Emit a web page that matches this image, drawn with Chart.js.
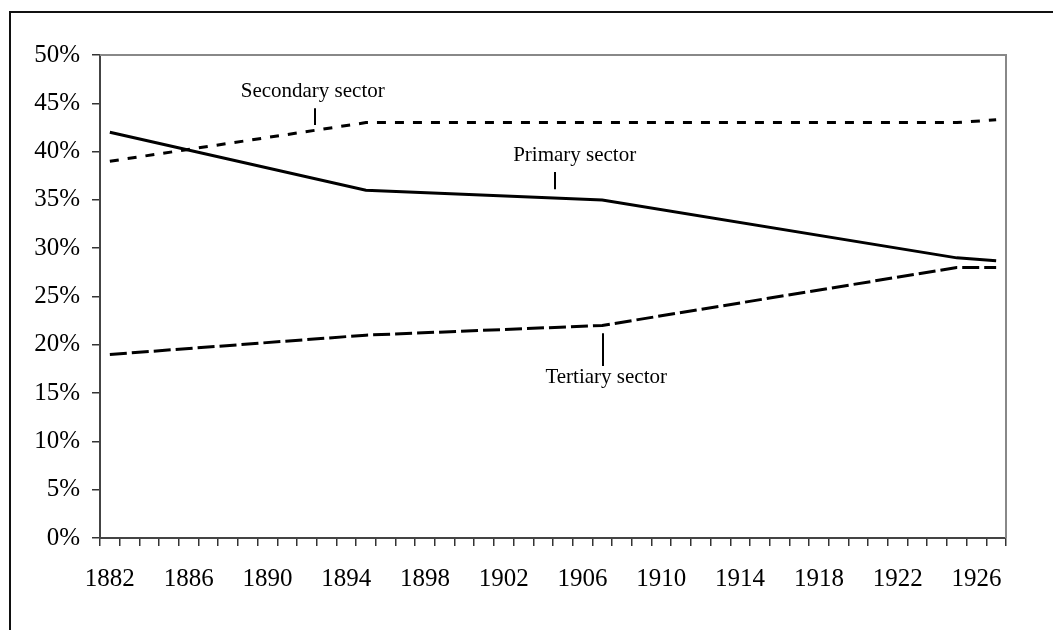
<!DOCTYPE html>
<html>
<head>
<meta charset="utf-8">
<script src="https://cdn.jsdelivr.net/npm/chart.js@4/dist/chart.umd.min.js"></script>
<style>
  html, body { margin: 0; padding: 0; background: #fff; }
  #wrap { position: relative; width: 1053px; height: 630px; }
  canvas { display: block; }
</style>
</head>
<body>
<div id="wrap"><canvas id="c" width="1053" height="630"></canvas></div>
<script>
// ---- Data ----
const years = [];
for (let y = 1882; y <= 1927; y++) years.push(String(y));

const primaryYears   = ['1882', '1895', '1907', '1925', '1927'];
const primaryValues  = [42, 36, 35, 29, 28.7];
const secondaryYears  = ['1882', '1895', '1925', '1927'];
const secondaryValues = [39, 43, 43, 43.3];
const tertiaryYears  = ['1882', '1895', '1907', '1925', '1927'];
const tertiaryValues = [19, 21, 22, 28, 28];

const yTicks = [0, 5, 10, 15, 20, 25, 30, 35, 40, 45, 50];

// annotation labels (data units: category index, percent)
const annLabels = ['Secondary sector', 'Primary sector', 'Tertiary sector'];
const annTextX  = [10.3, 23.6, 25.2];
const annTextY  = [46.2, 39.6, 16.6];
const annLineX  = [10.4, 22.6, 25.05];
const annLineY1 = [44.5, 37.9, 21.2];
const annLineY2 = [42.75, 36.1, 17.8];

function toSeries(ys, vals) {
  const arr = years.map(() => null);
  ys.forEach((y, i) => { arr[years.indexOf(y)] = vals[i]; });
  return arr;
}

const frame = {
  id: 'frame',
  beforeDraw(chart) {
    const ctx = chart.ctx;
    ctx.save();
    ctx.strokeStyle = '#111';
    ctx.lineWidth = 2;
    ctx.beginPath();
    ctx.moveTo(10, 640);
    ctx.lineTo(10, 12);
    ctx.lineTo(1060, 12);
    ctx.stroke();
    ctx.restore();
  },
  afterDraw(chart) {
    const ctx = chart.ctx, a = chart.chartArea;
    ctx.save();
    ctx.strokeStyle = '#888';
    ctx.lineWidth = 2;
    ctx.beginPath();
    ctx.moveTo(a.left, a.top);
    ctx.lineTo(a.right, a.top);
    ctx.lineTo(a.right, a.bottom);
    ctx.stroke();
    // annotations
    const xs = chart.scales.x, ys = chart.scales.y;
    ctx.fillStyle = '#000';
    ctx.strokeStyle = '#000';
    ctx.lineWidth = 2;
    ctx.font = '21px "Liberation Serif", "Times New Roman", serif';
    ctx.textAlign = 'center';
    ctx.textBaseline = 'middle';
    annLabels.forEach((t, i) => {
      ctx.fillText(t, xs.getPixelForValue(annTextX[i]), ys.getPixelForValue(annTextY[i]));
      const lx = Math.round(xs.getPixelForValue(annLineX[i])) + 0;
      ctx.beginPath();
      ctx.moveTo(lx, ys.getPixelForValue(annLineY1[i]));
      ctx.lineTo(lx, ys.getPixelForValue(annLineY2[i]));
      ctx.stroke();
    });
    ctx.restore();
  }
};

const fontTick = { family: '"Liberation Serif", "Times New Roman", serif', size: 25 };

new Chart(document.getElementById('c'), {
  type: 'line',
  data: {
    labels: years,
    datasets: [
      { label: 'Primary sector', data: toSeries(primaryYears, primaryValues),
        borderColor: '#000', borderWidth: 3, pointRadius: 0, spanGaps: true, tension: 0 },
      { label: 'Secondary sector', data: toSeries(secondaryYears, secondaryValues),
        borderColor: '#000', borderWidth: 3, borderDash: [9, 9], pointRadius: 0, spanGaps: true, tension: 0 },
      { label: 'Tertiary sector', data: toSeries(tertiaryYears, tertiaryValues),
        borderColor: '#000', borderWidth: 3, borderDash: [17, 5], pointRadius: 0, spanGaps: true, tension: 0 }
    ]
  },
  options: {
    responsive: false,
    animation: false,
    events: [],
    layout: { padding: { left: 0, right: 47, top: 55, bottom: 0 } },
    plugins: { legend: { display: false }, tooltip: { enabled: false } },
    scales: {
      x: {
        offset: true,
        grid: { offset: true, drawOnChartArea: false, tickLength: 8, color: '#333', lineWidth: 1.5 },
        border: { display: true, color: '#444', width: 2 },
        ticks: {
          autoSkip: false, maxRotation: 0, minRotation: 0, padding: 18,
          color: '#000', font: fontTick,
          callback: function(v, i) { return i % 4 === 0 ? years[i] : ''; }
        },
        afterFit: s => { s.height = 92; }
      },
      y: {
        min: 0, max: 50,
        afterBuildTicks: s => { s.ticks = yTicks.map(v => ({ value: v })); },
        grid: { drawOnChartArea: false, tickLength: 8, color: '#333', lineWidth: 1.5 },
        border: { display: true, color: '#444', width: 2 },
        ticks: { padding: 12, color: '#000', font: fontTick, callback: v => v + '%' },
        afterFit: s => { s.width = 100; }
      }
    }
  },
  plugins: [frame]
});
</script>
</body>
</html>
